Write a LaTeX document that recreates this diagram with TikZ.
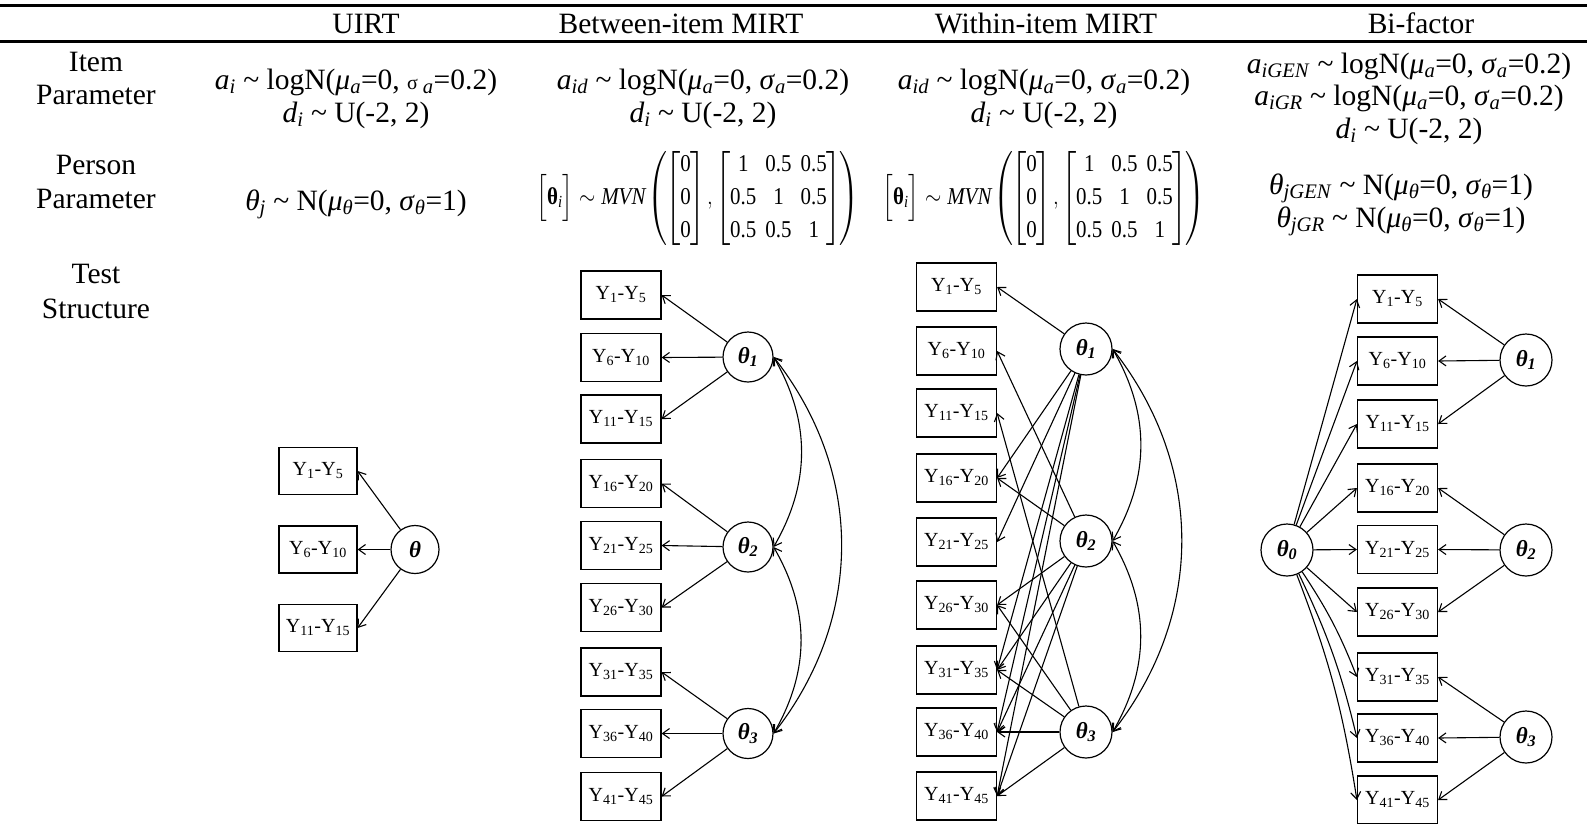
\RequirePackage{fix-cm}
\documentclass[tikz,border=0pt]{standalone}
\usepackage{amsmath}
\usepackage{graphicx}
\usepackage{fontspec}
\setmainfont{Liberation Serif}
\usetikzlibrary{arrows.meta}
\newcommand\bigtxt{\fontsize{29.5}{32}\selectfont}
\newcommand\boxtxt{\fontsize{20}{22}\selectfont}
\newcommand\lattxt{\fontsize{23}{25}\selectfont\bfseries\itshape}
\newcommand\mtxt{\fontsize{23}{26}\selectfont}
\newcommand\sbi[1]{\textsubscript{\textit{#1}}}
\newcommand\tld{ \textasciitilde{} }
\newcommand\tn[1]{\text{#1}}
\newcommand\mvnexpr{\scalebox{0.91}[1.05]{$\setlength\arraycolsep{5pt}\renewcommand\arraystretch{1.2}%
\Bigl[\text{\textbf{θ}}_{\mathit{i}}\Bigr] \sim \mathit{MVN}\mkern-1mu\left(\mkern-2mu\begin{bmatrix}\tn{0}\\\tn{0}\\\tn{0}\end{bmatrix}\mkern-2mu,\mkern-1mu\begin{bmatrix}\tn{1}&\tn{0.5}&\tn{0.5}\\\tn{0.5}&\tn{1}&\tn{0.5}\\\tn{0.5}&\tn{0.5}&\tn{1}\end{bmatrix}\mkern-2mu\right)$}}
\tikzset{
  txt/.style={font=\bigtxt, inner sep=0pt, anchor=base},
  ybox/.style={draw, line width=1.2pt, minimum width=80pt, minimum height=48pt, inner sep=0pt, font=\boxtxt},
  lat/.style={draw, circle, line width=1.2pt, minimum size=50pt, inner sep=0pt, font=\lattxt},
  arr/.style={-{Straight Barb[length=7pt,width=10pt]}, line width=1.1pt},
  darr/.style={{Straight Barb[length=7pt,width=10pt]}-{Straight Barb[length=7pt,width=10pt]}, line width=1.1pt},
}
\begin{document}
\begin{tikzpicture}[x=1pt,y=-1pt]
\useasboundingbox (0,0) rectangle (1587,823);
\draw[line width=3pt] (0,5) -- (1587,5);
\draw[line width=2.5pt] (0,41.5) -- (1587,41.5);
% headers
\node[txt] (hU) at (366,33) {UIRT};
\node[txt] (hB) at (681,33) {Between-item MIRT};
\node[txt] (hW) at (1046,33) {Within-item MIRT};
\node[txt] (hF) at (1421,33) {Bi-factor};
% row labels
\node[txt] (l1a) at (96,71) {Item};
\node[txt] (l1b) at (96,104) {Parameter};
\node[txt] (l2a) at (96,174) {Person};
\node[txt] (l2b) at (96,208) {Parameter};
\node[txt] (l3a) at (96,283) {Test};
\node[txt] (l3b) at (96,318) {Structure};
% item parameters
\node[txt] (iu1) at (356,89) {\textit{a}\sbi{i}\tld logN(\textit{μ}\sbi{a}=0, {\fontsize{20}{20}\selectfont σ}\,\sbi{a}=0.2)};
\node[txt] (iu2) at (356,122) {\textit{d}\sbi{i}\tld U(-2, 2)};
\node[txt] (ib1) at (703,89) {\textit{a}\sbi{id}\tld logN(\textit{μ}\sbi{a}=0, \textit{σ}\sbi{a}=0.2)};
\node[txt] (ib2) at (703,122) {\textit{d}\sbi{i}\tld U(-2, 2)};
\node[txt] (iw1) at (1044,89) {\textit{a}\sbi{id}\tld logN(\textit{μ}\sbi{a}=0, \textit{σ}\sbi{a}=0.2)};
\node[txt] (iw2) at (1044,122) {\textit{d}\sbi{i}\tld U(-2, 2)};
\node[txt] (if1) at (1409,73) {\textit{a}\sbi{iGEN}\tld logN(\textit{μ}\sbi{a}=0, \textit{σ}\sbi{a}=0.2)};
\node[txt] (if2) at (1409,105) {\textit{a}\sbi{iGR}\tld logN(\textit{μ}\sbi{a}=0, \textit{σ}\sbi{a}=0.2)};
\node[txt] (if3) at (1409,138) {\textit{d}\sbi{i}\tld U(-2, 2)};
% person parameters
\node[txt] (pu) at (356,210) {\textit{θ}\sbi{j}\tld N(\textit{μ}\sbi{θ}=0, \textit{σ}\sbi{θ}=1)};
\node[inner sep=0pt, font=\mtxt] (pb) at (698,198) {\mvnexpr};
\node[inner sep=0pt, font=\mtxt] (pw) at (1044,198) {\mvnexpr};
\node[txt] (pf1) at (1401,194) {\textit{θ}\sbi{jGEN}\tld N(\textit{μ}\sbi{θ}=0, \textit{σ}\sbi{θ}=1)};
\node[txt] (pf2) at (1401,227) {\textit{θ}\sbi{jGR}\tld N(\textit{μ}\sbi{θ}=0, \textit{σ}\sbi{θ}=1)};
% ---------- UIRT ----------
\node[ybox, minimum width=78pt, minimum height=47pt] (u1) at (318,471) {Y\textsubscript{1}-Y\textsubscript{5}};
\node[ybox, minimum width=78pt, minimum height=47pt] (u2) at (318,549.5) {Y\textsubscript{6}-Y\textsubscript{10}};
\node[ybox, minimum width=78pt, minimum height=47pt] (u3) at (318,628) {Y\textsubscript{11}-Y\textsubscript{15}};
\node[lat, minimum size=48pt] (ut) at (415,549.5) {θ};
\foreach \i in {1,2,3} \draw[arr] (ut) -- (u\i.east);
% ---------- Between ----------
\foreach \n/\y/\a/\b in {1/295/1/5, 2/357.5/6/10, 3/419/11/15, 4/483.5/16/20, 5/545.5/21/25, 6/607.5/26/30, 7/672/31/35, 8/733.5/36/40, 9/796.5/41/45}
  \node[ybox] (b\n) at (621,\y) {Y\textsubscript{\a}-Y\textsubscript{\b}};
\node[lat] (bt1) at (748,357) {θ\textsubscript{1}};
\node[lat] (bt2) at (748,547) {θ\textsubscript{2}};
\node[lat] (bt3) at (748,733.5) {θ\textsubscript{3}};
\foreach \i in {1,2,3} \draw[arr] (bt1) -- (b\i.east);
\foreach \i in {4,5,6} \draw[arr] (bt2) -- (b\i.east);
\foreach \i in {7,8,9} \draw[arr] (bt3) -- (b\i.east);
\draw[darr] (bt1.east) to[out=-60,in=60] (bt2.east);
\draw[darr] (bt2.east) to[out=-60,in=60] (bt3.east);
\draw[darr] (bt1.east) to[out=-52,in=52] (bt3.east);
% ---------- Within ----------
\foreach \n/\y/\a/\b in {1/287/1/5, 2/351/6/10, 3/413/11/15, 4/478/16/20, 5/542/21/25, 6/605/26/30, 7/670/31/35, 8/732/36/40, 9/796/41/45}
  \node[ybox] (w\n) at (956.5,\y) {Y\textsubscript{\a}-Y\textsubscript{\b}};
\node[lat, minimum size=52pt] (wt1) at (1086,349) {θ\textsubscript{1}};
\node[lat, minimum size=52pt] (wt2) at (1086,541) {θ\textsubscript{2}};
\node[lat, minimum size=52pt] (wt3) at (1086,732) {θ\textsubscript{3}};
\foreach \i in {1,4,5,7,8,9} \draw[arr] (wt1) -- (w\i.east);
\foreach \i in {2,4,6,7,8,9} \draw[arr] (wt2) -- (w\i.east);
\foreach \i in {3,6,7,8,9} \draw[arr] (wt3) -- (w\i.east);
\draw[darr] (wt1.east) to[out=-60,in=60] (wt2.east);
\draw[darr] (wt2.east) to[out=-60,in=60] (wt3.east);
\draw[darr] (wt1.east) to[out=-52,in=52] (wt3.east);
% ---------- Bi-factor ----------
\foreach \n/\y/\a/\b in {1/299/1/5, 2/361/6/10, 3/424/11/15, 4/488/16/20, 5/549.5/21/25, 6/612/26/30, 7/677/31/35, 8/738/36/40, 9/800/41/45}
  \node[ybox] (f\n) at (1397.5,\y) {Y\textsubscript{\a}-Y\textsubscript{\b}};
\node[lat, minimum size=52pt] (ft0) at (1287,550) {θ\textsubscript{0}};
\node[lat, minimum size=52pt] (ft1) at (1526,360) {θ\textsubscript{1}};
\node[lat, minimum size=52pt] (ft2) at (1526,550) {θ\textsubscript{2}};
\node[lat, minimum size=52pt] (ft3) at (1526,737) {θ\textsubscript{3}};
\foreach \i in {1,2,3,4,5,6} \draw[arr] (ft0) -- (f\i.west);
\foreach \i in {7,8,9} \draw[arr] (ft0) to[bend left=6] (f\i.west);
\foreach \i in {1,2,3} \draw[arr] (ft1) -- (f\i.east);
\foreach \i in {4,5,6} \draw[arr] (ft2) -- (f\i.east);
\foreach \i in {7,8,9} \draw[arr] (ft3) -- (f\i.east);
\end{tikzpicture}
\end{document}
